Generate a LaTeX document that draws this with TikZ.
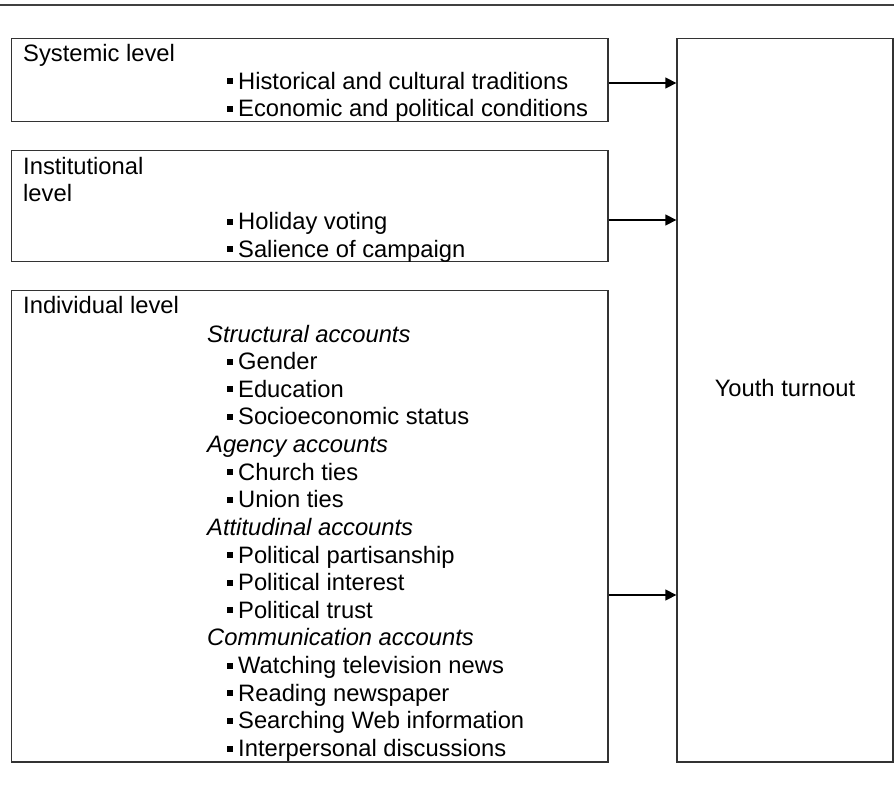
\documentclass[tikz,border=0pt]{standalone}
\usepackage{fontspec}
\setmainfont{Liberation Sans}
\usetikzlibrary{arrows.meta}
\newcommand{\bul}{\rule[5pt]{6pt}{6pt}\hspace{5pt}}
\tikzset{
  levelbox/.style={draw=black!80, line width=1.3pt, inner sep=0pt, minimum width=596.5pt},
  txt/.style={anchor=base west, inner sep=0pt, font=\fontsize{23.75}{27.5}\selectfont},
  itm/.style={txt},
  link/.style={draw=black, line width=1.3pt, -{Triangle[length=11pt,width=11pt]}},
}
\begin{document}
\begin{tikzpicture}[x=1pt,y=-1pt]
\useasboundingbox (0,0) rectangle (894,789);
\draw[line width=2pt, black!75] (0,5) -- (894,5);
% boxes
\node[levelbox, minimum height=83pt] (sys) at (309.75,80) {};
\node[levelbox, minimum height=111pt] (ins) at (309.75,206.2) {};
\node[levelbox, minimum height=471.3pt] (ind) at (309.75,526.4) {};
\node[draw=black!80, line width=1.3pt, inner sep=0pt, minimum width=216pt, minimum height=723.5pt] (out) at (785,400.25) {};
% systemic
\node[txt] (s0) at (23,62) {Systemic level};
\node[itm] (s1) at (227,89.5) {\bul Historical and cultural traditions};
\node[itm] (s2) at (227,117) {\bul Economic and political conditions};
% institutional
\node[txt] (i0) at (23,174) {Institutional};
\node[txt] (i1) at (23,201.5) {level};
\node[itm] (i2) at (227,229.5) {\bul Holiday voting};
\node[itm] (i3) at (227,257) {\bul Salience of campaign};
% individual
\node[txt] (d0) at (23,313.3) {Individual level};
\node[txt] (d1) at (207,342) {\itshape Structural accounts};
\node[itm] (d2) at (227,369.6) {\bul Gender};
\node[itm] (d3) at (227,397.3) {\bul Education};
\node[itm] (d4) at (227,424.9) {\bul Socioeconomic status};
\node[txt] (d5) at (207,452.5) {\itshape Agency accounts};
\node[itm] (d6) at (227,480.2) {\bul Church ties};
\node[itm] (d7) at (227,507.8) {\bul Union ties};
\node[txt] (d8) at (207,535.4) {\itshape Attitudinal accounts};
\node[itm] (d9) at (227,563.1) {\bul Political partisanship};
\node[itm] (d10) at (227,590.7) {\bul Political interest};
\node[itm] (d11) at (227,618.3) {\bul Political trust};
\node[txt] (d12) at (207,645.9) {\itshape Communication accounts};
\node[itm] (d13) at (227,673.6) {\bul Watching television news};
\node[itm] (d14) at (227,701.2) {\bul Reading newspaper};
\node[itm] (d15) at (227,728.8) {\bul Searching Web information};
\node[itm] (d16) at (227,756.5) {\bul Interpersonal discussions};
% outcome
\node[anchor=base, inner sep=0pt, font=\fontsize{23.75}{27.5}\selectfont] (yt) at (785,396) {Youth turnout};
% arrows
\draw[link] (sys.east |- 0,83) -- (out.west |- 0,83);
\draw[link] (ins.east |- 0,220) -- (out.west |- 0,220);
\draw[link] (ind.east |- 0,595) -- (out.west |- 0,595);
\end{tikzpicture}
\end{document}
